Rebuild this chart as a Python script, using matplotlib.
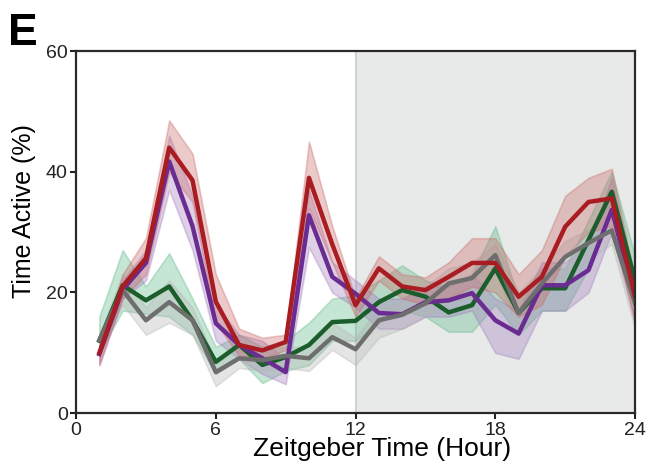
import matplotlib
matplotlib.use('Agg')
import matplotlib.pyplot as plt

plt.rcParams['font.family'] = ['Liberation Sans', 'DejaVu Sans']

hours = list(range(1, 25))

# mean lines
red = [10, 21, 25.7, 44, 38.6, 18.5, 11.3, 10.4, 11.8, 39, 28, 17.9,
       24, 21, 20.4, 22.6, 24.9, 24.9, 19.3, 22.6, 30.9, 35, 35.6, 19.3]
purple = [9.8, 20.5, 24.9, 41.7, 31, 14.9, 11.3, 9.1, 6.8, 32.8, 22.6, 19.8,
          16.6, 16.4, 18.4, 18.7, 19.9, 15.4, 13.2, 21.2, 21.2, 23.7, 33.7, 19]
green = [12, 21.2, 18.7, 21, 15.4, 8.5, 11.3, 8, 9.3, 11.3, 15.1, 15.3,
         18.4, 20.4, 19.3, 16.7, 17.9, 24, 16.6, 20.7, 20.7, 28.7, 36.7, 22]
gray = [12.1, 20.4, 15.4, 18.4, 15.4, 6.8, 9.1, 8.8, 9.5, 9.1, 12.6, 10.6,
        15.4, 16.3, 18.2, 21.5, 22.4, 26.2, 16.6, 21.5, 25.9, 28.2, 30.3, 18.2]

# error bands
red_hi = [11, 23, 29, 48.5, 43, 23, 14, 12.5, 13, 45, 31, 19,
          26, 23, 22.5, 25, 29, 29, 23, 27, 36, 39, 40.5, 22]
red_lo = [8, 19, 23, 40, 35, 15, 9.5, 9, 10.5, 34, 25, 16,
          22, 19, 18, 19, 21, 20, 16, 18, 26, 30, 31, 15]
purple_hi = [11, 22, 27, 46, 36, 18, 13, 12, 9, 37, 25, 22,
             19, 19, 21, 21, 23, 19, 17, 25, 25, 28, 39, 21]
purple_lo = [8, 19, 22, 37, 27, 12, 9, 6.5, 4.8, 27.5, 20, 17.5,
             14, 14, 16, 16, 17, 10, 9, 17, 17, 20, 30, 15]
green_hi = [16, 27, 21, 26.5, 19, 11, 13, 11, 12, 15, 19, 19.5,
            22, 24.5, 22, 21, 23, 31, 19, 24, 24, 32, 40, 26]
green_lo = [10, 17, 16.5, 16, 13, 6.5, 9, 5, 7, 8, 12, 12,
            15, 17, 16, 13.5, 13.5, 18, 13, 17, 17, 24, 34, 18]
gray_hi = [13, 23, 17.5, 22, 17.5, 8.5, 10.5, 10.5, 11, 11, 15, 12.5,
           17.5, 18.5, 21, 24, 25, 28, 20, 24, 28.5, 30.5, 33, 22]
gray_lo = [10.5, 18, 13, 15, 13, 4.5, 7.5, 7, 7.5, 7, 10.5, 8,
           12.5, 14, 16, 18.5, 19, 24, 13, 19, 23, 25.5, 28, 14]

series = [
    (green, green_lo, green_hi, '#1c5e2b', '#5cb887'),
    (purple, purple_lo, purple_hi, '#6a2c91', '#a27bbd'),
    (gray, gray_lo, gray_hi, '#6e6e6e', '#b5b5b5'),
    (red, red_lo, red_hi, '#a81c22', '#c96868'),
]

fig = plt.figure(figsize=(6.5, 4.69), dpi=100)
ax = fig.add_axes([0.117, 0.119, 0.860, 0.772])

# dark phase
ax.axvspan(12, 24, color='#e8eaea', zorder=0)
ax.axvline(12, color='#cfd2d2', lw=1.5, zorder=0.5)

for mean, lo, hi, c, fc in series:
    ax.fill_between(hours, lo, hi, facecolor=fc, edgecolor=fc, alpha=0.35, lw=1.2)
    ax.plot(hours, mean, color=c, lw=3.2)

ax.set_xlim(0, 24)
ax.set_ylim(0, 60)
ax.set_xticks([0, 6, 12, 18, 24])
ax.set_yticks([0, 20, 40, 60])
ax.tick_params(labelsize=14, length=4, width=1.5, colors='#222222', pad=2)
for s in ax.spines.values():
    s.set_linewidth(1.6)
    s.set_color('#2a2a2a')

ax.set_xlabel('Zeitgeber Time (Hour)', fontsize=19)
ax.set_ylabel('Time Active (%)', fontsize=18)
ax.xaxis.set_label_coords(0.548, -0.066)
ax.yaxis.set_label_coords(-0.071, 0.558)
fig.text(0.012, 0.905, 'E', fontsize=32, fontweight='bold')

fig.savefig('out.png', dpi=100)
